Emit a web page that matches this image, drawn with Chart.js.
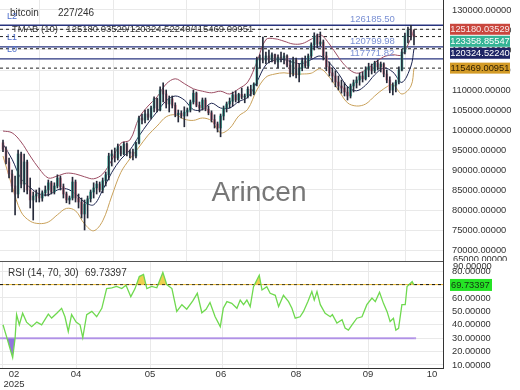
<!DOCTYPE html>
<html>
<head>
<meta charset="utf-8">
<script src="https://cdn.jsdelivr.net/npm/chart.js@4.4.1/dist/chart.umd.min.js"></script>
<style>
  html, body { margin: 0; padding: 0; background: #fff; }
  #wrap { position: relative; width: 520px; height: 390px; }
  #main { position: absolute; left: 0; top: 0; }
  #rsi { position: absolute; left: 0; top: 261px; }
</style>
</head>
<body>
<div id="wrap">
  <canvas id="main" width="520" height="261"></canvas>
  <canvas id="rsi" width="520" height="129"></canvas>
</div>
<script>
// daily bars, index 0 = first visible bar
const opens = [
  96800, 95200, 92000, 89000, 86000, 84000, 94000, 86500, 92000, 85000,
  82500, 83500, 84000, 83000, 84300, 85000, 86800, 84500, 86000, 88000,
  85800, 84000, 82500, 83000, 87000, 83000, 82000, 79000, 81500, 82800,
  84500, 85500, 86500, 85000, 87300, 88800, 93500, 94000, 93000, 95800,
  94000, 96500, 94200, 94500, 93500, 96800, 103000, 102500, 104000, 103200,
  105500, 107800, 105000, 110000, 109000, 106500, 107800, 106200, 103800, 104200,
  103500, 104500, 105000, 107000, 109200, 106200, 105500, 107500, 105200, 104300,
  102600, 101500, 100500, 103500, 105500, 106500, 107200, 108800, 107500, 108900,
  108200, 108500, 110200, 109000, 111500, 117500, 118000, 117500, 118500, 117500,
  118800, 117000, 118200, 117800, 118500, 116200, 114200, 117500, 113800, 115500,
  117300, 116000, 118500, 121300, 123500, 121500, 122000, 118500, 115800, 114300,
  113500, 112000, 111000, 110500, 109500, 108500, 111000, 111800, 112500, 113500,
  112800, 115000, 115800, 114800, 116800, 115800, 116500, 114000, 112500, 110000,
  111200, 112000, 115000, 119500, 123500, 125000, 123800
];
const highs = [
  97500, 95800, 93000, 90000, 88500, 95000, 94500, 94000, 92500, 88000,
  84500, 85000, 85500, 84800, 86000, 87500, 87200, 86800, 88800, 88500,
  86500, 84500, 83500, 88200, 87500, 84000, 83000, 82500, 83500, 85000,
  86800, 87200, 87000, 88000, 89500, 94200, 95000, 95500, 96500, 96000,
  97000, 96800, 95000, 95200, 97000, 103500, 104000, 105000, 105200, 106000,
  108300, 108000, 110800, 111800, 110000, 108500, 108500, 106800, 105000, 104800,
  105800, 105500, 107500, 110000, 109500, 107000, 108000, 108000, 106000, 104800,
  103800, 102000, 104000, 106000, 107000, 108000, 109500, 109800, 109200, 110500,
  109000, 110800, 111200, 111800, 118200, 118800, 123200, 119500, 120000, 119300,
  119000, 118800, 119500, 119200, 118800, 117500, 118200, 118000, 116500, 118000,
  118500, 119000, 121800, 124300, 124000, 124500, 122500, 119500, 117000, 115500,
  114800, 113500, 112500, 111800, 110800, 111500, 112500, 113300, 114200, 114500,
  115800, 116700, 116500, 117200, 117500, 117000, 116800, 115000, 113300, 111800,
  112500, 115800, 120200, 124200, 125700, 126185.5, 125000
];
const lows = [
  94600, 91500, 88000, 84500, 78800, 83000, 85500, 84500, 84000, 80500,
  77500, 82000, 82000, 82200, 83500, 83500, 84000, 84000, 85500, 85000,
  83000, 81800, 81500, 82500, 82000, 80500, 78000, 75000, 78000, 82000,
  83000, 84000, 84500, 84300, 86000, 87500, 91000, 92000, 92500, 93500,
  93800, 93500, 93000, 92500, 93000, 96500, 101500, 101800, 102500, 102800,
  104500, 104500, 104800, 107000, 105500, 104500, 105500, 103300, 102000, 103000,
  100800, 103500, 104500, 106500, 105800, 104500, 105000, 104800, 103800, 102000,
  100500, 99500, 98300, 102500, 104500, 105500, 106000, 107000, 106800, 107800,
  106800, 108000, 108500, 108800, 111000, 115500, 116800, 116500, 116800, 117000,
  116500, 115500, 117000, 116500, 115800, 113300, 113500, 113000, 112000, 114800,
  115500, 115500, 118000, 120000, 120500, 121000, 117500, 114800, 113500, 112000,
  110800, 110000, 109200, 108500, 107500, 108000, 109500, 110500, 111200, 112000,
  112500, 113300, 114000, 114300, 115000, 114500, 113300, 111800, 109300, 108800,
  109500, 111500, 114800, 119000, 121800, 122500, 121300
];
const closes = [
  95200, 92000, 89000, 86000, 84000, 94000, 86500, 92000, 85000, 82500,
  83500, 84000, 83000, 84300, 85000, 86800, 84500, 86000, 88000, 85800,
  84000, 82500, 83000, 87000, 83000, 82000, 79000, 81500, 82800, 84500,
  85500, 86500, 85000, 87300, 88800, 93500, 94000, 93000, 95800, 94000,
  96500, 94200, 94500, 93500, 96800, 103000, 102500, 104000, 103200, 105500,
  107800, 105000, 110000, 109000, 106500, 107800, 106200, 103800, 104200, 103500,
  104500, 105000, 107000, 109200, 106200, 105500, 107500, 105200, 104300, 102600,
  101500, 100500, 103500, 105500, 106500, 107200, 108800, 107500, 108900, 108200,
  108500, 110200, 109000, 111500, 117500, 118000, 117500, 118500, 117500, 118800,
  117000, 118200, 117800, 118500, 116200, 114200, 117500, 113800, 115500, 117300,
  116000, 118500, 121300, 123500, 121500, 122000, 118500, 115800, 114300, 113500,
  112000, 111000, 110500, 109500, 108500, 111000, 111800, 112500, 113500, 112800,
  115000, 115800, 114800, 116800, 115800, 116500, 114000, 112500, 110000, 111200,
  112000, 115000, 119500, 123500, 125000, 123800, 123358.85547
];

// TMA bands (10), one reading every 3rd bar plus the last bar
const bandAt = Array.from({ length: 46 }, (_, k) => k * 3).concat([136]);
const tmaUpper = [
  99750, 99300, 97000, 93500, 90300, 88000, 88500, 89200, 89000, 88300,
  87800, 89000, 92500, 96700, 97500, 103000, 106000, 108300, 111500, 112800,
  111600, 110300, 109700, 109300, 109700, 109000, 110300, 112000, 117000, 122600,
  122800, 122200, 121500, 121600, 122700, 123800, 121500, 118200, 115500, 114200,
  115000, 116800, 118300, 118800, 118800, 123000, 125180.03529
];
const tmaMiddle = [
  96500, 92700, 87800, 85600, 84000, 83800, 85000, 85300, 84000, 82000,
  81300, 85000, 89400, 92700, 95000, 98500, 101700, 104600, 107300, 108500,
  107500, 105100, 105100, 106700, 105500, 105500, 107100, 108200, 112000, 116300,
  117500, 117600, 116900, 116600, 117600, 118500, 116800, 114100, 110800, 109800,
  111200, 113800, 115500, 114500, 111900, 116000, 120324.5224
];
const tmaLower = [
  93500, 86000, 79500, 77200, 76600, 77000, 78800, 80400, 79800, 76500,
  74800, 77300, 83500, 89400, 92800, 95700, 98700, 101000, 103300, 103800,
  102700, 102400, 103000, 102300, 99300, 100400, 103500, 105200, 110000, 113200,
  114000, 114300, 114000, 114000, 114200, 115300, 113200, 110000, 106800, 106000,
  106500, 108500, 110300, 111300, 109000, 111000, 115469.00951
];

// drawn level lines
const levelValues = [126185.50, 120799.98, 117771.82];
const levelNames = ['L2', 'L1', 'L0'];

// RSI (14)
const rsiAt = [
  0, 1.2, 2.3, 3.2, 4, 4.5, 5.4, 6.5, 7.8, 9.5, 11.2, 12.8, 15, 16.1, 17.8, 19.4, 20.5, 21.6, 22.7, 24.2,
  25.5, 26.4, 27.7, 29.4, 31, 32.7, 34.3, 36, 37.6, 39.3, 40.7, 42.3, 43.7, 45.1, 46.5, 47.6, 49.2, 50.9, 52.9, 54.2,
  55.9, 57.5, 59.2, 60.8, 62.8, 64.3, 65.8, 67.2, 68.5, 70.2, 71.9, 72.9, 74.1, 75.7, 77.4, 78.5, 79.6, 80.7, 81.8, 82.9,
  84, 84.8, 85.7, 87.3, 88.4, 90.1, 91.2, 92.8, 94.5, 95.6, 96.7, 98.3, 99.4, 100.9, 102.2, 103, 103.9, 105, 106.6, 108.3,
  109, 110.5, 112.2, 113.2, 114.3, 115.5, 117.1, 118.8, 120.4, 122.1, 123.2, 124.6, 125.9, 127.1, 128.1, 129.2, 130, 130.9, 132, 133.1,
  133.7, 135.4, 136
];
const rsiValues = [
  40, 31, 22.5, 15.5, 30, 47.6, 40, 48.6, 42, 38.6, 42, 40, 48, 45, 48.6, 52.3, 46, 35, 47.6, 42,
  40, 30.5, 47.6, 50, 46, 52.3, 67, 67.6, 68.6, 67, 69.5, 61, 67, 76, 77.5, 67, 68.6, 67.6, 79, 70,
  67, 50, 55, 51.6, 57.8, 63.5, 49, 51.6, 56.6, 46, 38.6, 52.3, 57.3, 56, 52.3, 58.5, 55, 58.5, 53.6, 68.5,
  73.4, 77, 66, 68.5, 63.5, 62, 53.6, 62, 57.3, 52.3, 44.9, 46, 49.8, 57.3, 64.8, 58.5, 64.8, 55, 48.6, 46,
  47.6, 41.3, 43.8, 37.6, 36, 40, 44.9, 46, 55, 60, 57.3, 64.3, 56, 49.8, 42.4, 44.9, 36, 37.3, 55, 55,
  68.5, 72.2, 69.73397
];
const rsiHigh = 70, rsiLow = 30;

// axes
const priceTicks = [70000, 75000, 80000, 85000, 90000, 95000, 100000, 105000, 110000, 115000, 120000, 125000, 130000];
const rsiTicks = [10, 20, 30, 40, 50, 60, 70, 80];
const gridAt = [0, 24.16, 48.65, 72.8, 96.96, 121.1];
const monthAt = [3.64, 24.16, 48.65, 72.1, 96.96, 120.8, 141.96];
const monthLabels = [['02', '2025'], '04', '05', '06', '08', '09', '10'];

const X_MIN = -0.99, X_MAX = 145.6;
const FONT = '"Liberation Sans", Arial, sans-serif';
Chart.defaults.font.family = FONT;
Chart.defaults.color = '#333';

const GRID = '#e9e9e9';
const AXIS_W = 77;

function noPad(scale) {
  scale.paddingTop = 0; scale.paddingBottom = 0;
  scale.paddingLeft = 0; scale.paddingRight = 0;
}
function hline(v, x0, x1, color, width, dash) {
  return {
    type: 'line',
    data: [{ x: x0, y: v }, { x: x1, y: v }],
    borderColor: color, borderWidth: width, borderDash: dash || [],
    pointRadius: 0, tension: 0
  };
}
function band(values, color) {
  return {
    type: 'line',
    data: values.map((v, k) => ({ x: bandAt[k], y: v })),
    borderColor: color, borderWidth: 1, pointRadius: 0, tension: 0.35
  };
}

const last = a => a[a.length - 1];
const upBody = '#3fb8a2', downBody = '#e48a9a';

const mainDecor = {
  id: 'mainDecor',
  beforeDatasetsDraw(chart) {
    const ctx = chart.ctx;
    ctx.save();
    ctx.font = '28px ' + FONT;
    ctx.fillStyle = 'rgba(95,95,95,0.85)';
    ctx.textAlign = 'center';
    ctx.textBaseline = 'middle';
    ctx.fillText('Arincen', 259, 193);
    ctx.restore();
  },
  afterDraw(chart) {
    const ctx = chart.ctx;
    const y = chart.scales.y;
    ctx.save();
    ctx.textBaseline = 'middle';
    ctx.textAlign = 'left';

    ctx.font = '10px ' + FONT;
    ctx.fillStyle = '#333';
    ctx.fillText('bitcoin', 10, 13);
    ctx.fillText('227/246', 58, 13);

    ctx.font = '9.5px ' + FONT;
    ctx.fillText('TMAB (10) - ' + last(tmaUpper).toFixed(5) + '/' + last(tmaMiddle).toFixed(5) + '/' +
      last(tmaLower).toFixed(5), 12, y.getPixelForValue(last(tmaUpper)));

    levelValues.forEach((v, i) => {
      const py = y.getPixelForValue(v);
      ctx.font = '9px ' + FONT;
      ctx.fillStyle = '#4e6fcc';
      ctx.fillText(levelNames[i], 7, py - 9);
      ctx.font = '9.5px ' + FONT;
      ctx.fillStyle = '#7a90d4';
      ctx.textBaseline = 'bottom';
      ctx.fillText(v.toFixed(2), 350, py - 1);
      ctx.textBaseline = 'middle';
    });

    // partially hidden bottom tick label
    ctx.font = '9.3px ' + FONT;
    ctx.fillStyle = '#333';
    ctx.fillText((65000).toFixed(5), 453, 259);

    // last-value boxes on the price axis
    const boxes = [
      { v: last(tmaUpper), bg: '#c9463d', fg: '#fbe9e9' },
      { v: last(closes), bg: '#35b495', fg: '#ffffff' },
      { v: last(tmaMiddle), bg: '#1f2566', fg: '#ffffff' },
      { v: last(tmaLower), bg: '#d39b27', fg: '#2b1c00' }
    ].map(b => ({ ...b, py: y.getPixelForValue(b.v) }));
    boxes.sort((a, b) => a.py - b.py);
    for (let i = 1; i < boxes.length; i++) {
      if (boxes[i].py < boxes[i - 1].py + 12) boxes[i].py = boxes[i - 1].py + 12;
    }
    boxes.forEach(b => {
      ctx.fillStyle = b.bg;
      ctx.fillRect(450, b.py - 5.5, 60, 11);
      ctx.fillStyle = b.fg;
      ctx.textAlign = 'center';
      ctx.fillText(b.v.toFixed(5), 480, b.py + 0.5);
    });
    ctx.restore();
  }
};

new Chart(document.getElementById('main'), {
  type: 'bar',
  data: {
    datasets: [
      {
        data: closes.map((c, i) => ({ x: i, y: [lows[i], highs[i]] })),
        backgroundColor: '#262a3a',
        barThickness: 1, grouped: false
      },
      {
        data: closes.map((c, i) => ({ x: i, y: [opens[i], c] })),
        backgroundColor: closes.map((c, i) => c >= opens[i] ? upBody : downBody),
        barThickness: 2, minBarLength: 1, grouped: false
      },
      band(tmaUpper, '#9c4d63'),
      band(tmaMiddle, '#1c2550'),
      band(tmaLower, '#c9a15a'),
      hline(last(tmaUpper), X_MIN, X_MAX, '#222', 1, [3, 3]),
      hline(last(closes), X_MIN, X_MAX, '#222', 1, [3, 3]),
      hline(last(tmaMiddle), X_MIN, X_MAX, '#222', 1, [3, 3]),
      hline(last(tmaLower), X_MIN, X_MAX, '#222', 1, [3, 3]),
      ...levelValues.map(v => hline(v, X_MIN, X_MAX, '#28347f', 1.3))
    ]
  },
  options: {
    responsive: false,
    animation: false,
    events: [],
    layout: { padding: 0 },
    plugins: { legend: { display: false }, tooltip: { enabled: false } },
    scales: {
      x: {
        type: 'linear', min: X_MIN, max: X_MAX, offset: false,
        afterBuildTicks: s => { s.ticks = gridAt.map(v => ({ value: v })); },
        afterFit: noPad,
        ticks: { display: false },
        grid: { color: GRID, drawTicks: false },
        border: { display: false }
      },
      y: {
        position: 'right', min: 67250, max: 132500,
        afterBuildTicks: s => { s.ticks = priceTicks.map(v => ({ value: v })); },
        afterFit: s => { noPad(s); s.width = AXIS_W; },
        ticks: { callback: v => Number(v).toFixed(5), font: { size: 9.3 }, color: '#333', padding: 9 },
        grid: { color: GRID, drawTicks: false },
        border: { display: true, color: '#333', width: 1 }
      }
    }
  },
  plugins: [mainDecor]
});

const rsiDecor = {
  id: 'rsiDecor',
  afterDraw(chart) {
    const ctx = chart.ctx;
    const y = chart.scales.y;
    const area = chart.chartArea;
    ctx.save();
    ctx.strokeStyle = '#555';
    ctx.lineWidth = 1;
    ctx.beginPath();
    ctx.moveTo(0, 0.5);
    ctx.lineTo(area.right, 0.5);
    ctx.stroke();

    ctx.textBaseline = 'middle';
    ctx.textAlign = 'left';
    ctx.font = '10px ' + FONT;
    ctx.fillStyle = '#333';
    ctx.fillText('RSI (14, 70, 30)', 8, 12);
    ctx.fillText(last(rsiValues).toFixed(5), 85, 12);

    ctx.font = '9.3px ' + FONT;
    ctx.fillText((90).toFixed(5), 453, 5);

    const py = y.getPixelForValue(last(rsiValues));
    ctx.fillStyle = '#25e325';
    ctx.fillRect(450, py - 6, 42, 12);
    ctx.fillStyle = '#143314';
    ctx.fillText(last(rsiValues).toFixed(5), 451, py + 0.5);
    ctx.restore();
  }
};

const rsiPoints = rsiValues.map((v, i) => ({ x: rsiAt[i], y: v }));

new Chart(document.getElementById('rsi'), {
  type: 'line',
  data: {
    datasets: [
      {
        data: rsiPoints, borderColor: '#6fd94f', borderWidth: 1.3, pointRadius: 0, tension: 0,
        fill: { target: { value: rsiHigh }, above: 'rgba(236,206,70,0.95)', below: 'rgba(0,0,0,0)' }
      },
      {
        data: rsiPoints, borderWidth: 0, borderColor: 'rgba(0,0,0,0)', pointRadius: 0, tension: 0,
        fill: { target: { value: rsiLow }, above: 'rgba(0,0,0,0)', below: 'rgba(140,110,220,0.95)' }
      },
      hline(rsiHigh, X_MIN, X_MAX, '#111', 1, [3, 3]),
      hline(rsiHigh, X_MIN, X_MAX, '#f0b935', 1),
      hline(rsiLow, X_MIN, 136.7, '#b99be8', 2)
    ]
  },
  options: {
    responsive: false,
    animation: false,
    events: [],
    layout: { padding: 0 },
    plugins: { legend: { display: false }, tooltip: { enabled: false } },
    scales: {
      x: {
        type: 'linear', position: 'bottom', min: X_MIN, max: X_MAX, offset: false,
        afterBuildTicks: s => { s.ticks = monthAt.map(v => ({ value: v })); },
        afterFit: s => { noPad(s); s.height = 22; },
        ticks: {
          callback: (v, i) => monthLabels[i], autoSkip: false, maxRotation: 0,
          font: { size: 9.5, lineHeight: 1 }, color: '#333', padding: 2
        },
        grid: { display: false, drawTicks: false },
        border: { display: true, color: '#333', width: 1 }
      },
      x2: {
        type: 'linear', position: 'top', min: X_MIN, max: X_MAX, offset: false,
        afterBuildTicks: s => { s.ticks = gridAt.map(v => ({ value: v })); },
        afterFit: s => { noPad(s); s.height = 0; },
        ticks: { display: false },
        grid: { color: GRID, drawTicks: false },
        border: { display: false }
      },
      y: {
        position: 'right', min: 7.76, max: 87.6,
        afterBuildTicks: s => { s.ticks = rsiTicks.map(v => ({ value: v })); },
        afterFit: s => { noPad(s); s.width = AXIS_W; },
        ticks: { callback: v => Number(v).toFixed(5), font: { size: 9.3 }, color: '#333', padding: 9 },
        grid: { color: GRID, drawTicks: false },
        border: { display: true, color: '#333', width: 1 }
      }
    }
  },
  plugins: [rsiDecor]
});
</script>
</body>
</html>
